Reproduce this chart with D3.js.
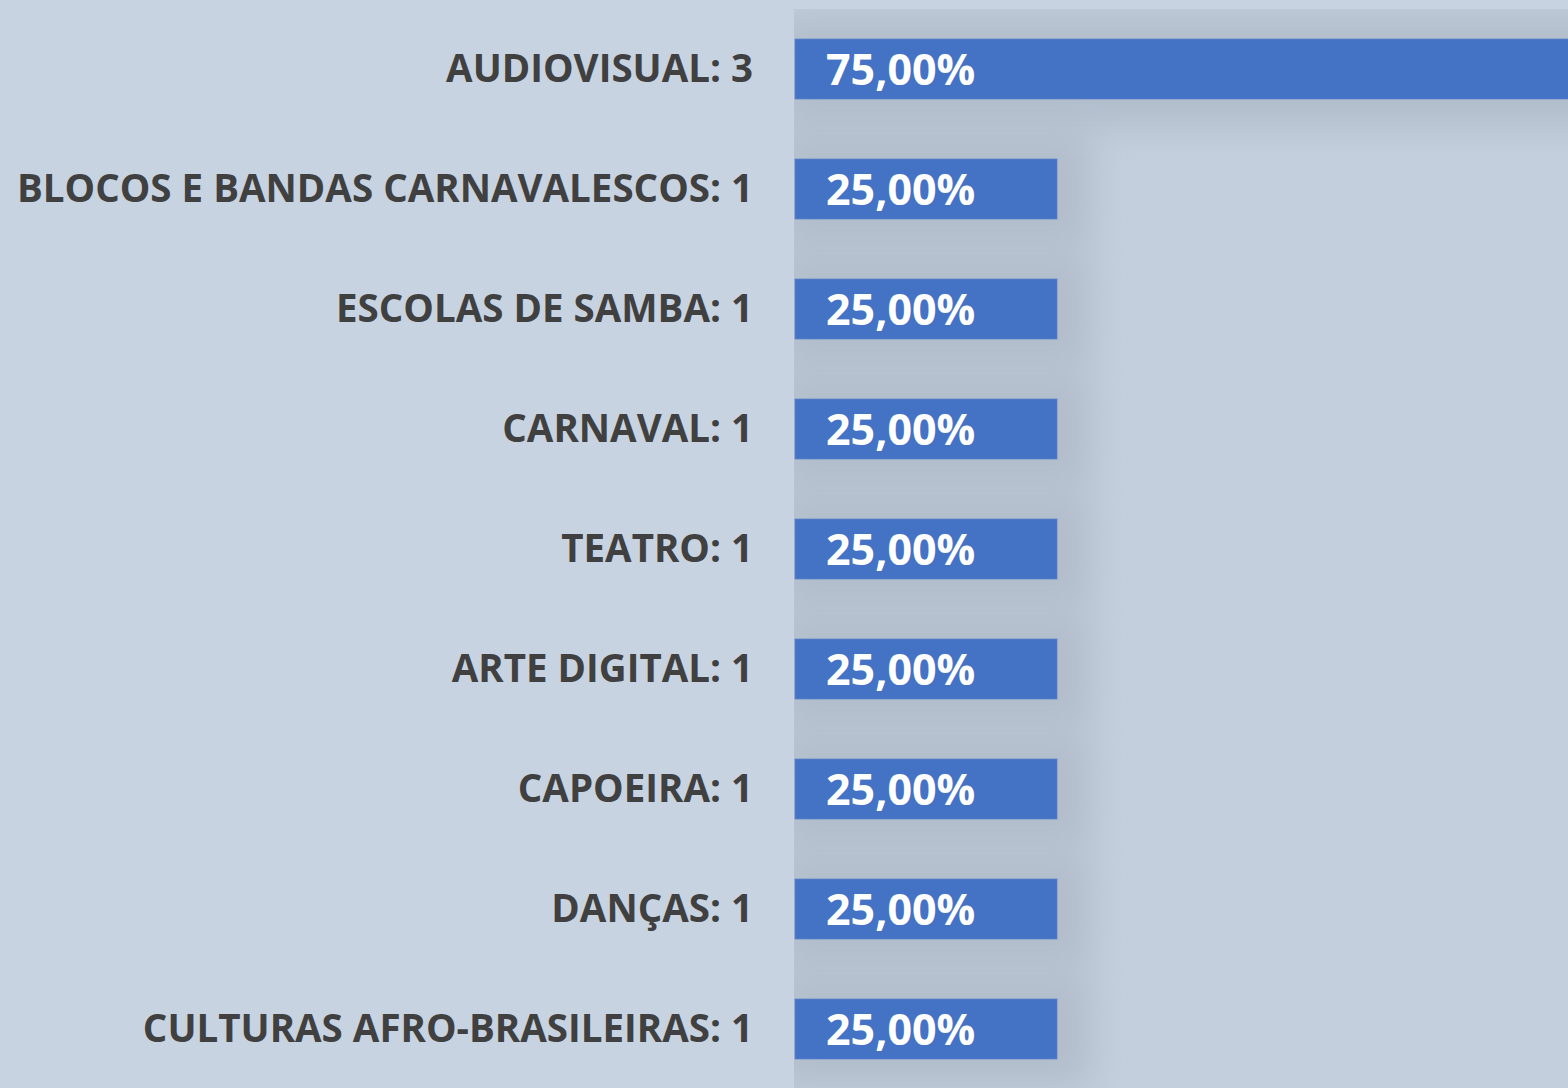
<!DOCTYPE html>
<html>
<head>
<meta charset="utf-8">
<script src="https://cdn.jsdelivr.net/npm/d3@7"></script>
<style>
html,body{margin:0;padding:0;background:#c7d3e1;overflow:hidden;}
svg{display:block;}
</style>
</head>
<body>
<svg id="chart" width="1568" height="1088"></svg>
<script>
const categories = ["AUDIOVISUAL","BLOCOS E BANDAS CARNAVALESCOS","ESCOLAS DE SAMBA","CARNAVAL","TEATRO","ARTE DIGITAL","CAPOEIRA","DANÇAS","CULTURAS AFRO-BRASILEIRAS"];
const counts = [3,1,1,1,1,1,1,1,1];
const shares = [0.75,0.25,0.25,0.25,0.25,0.25,0.25,0.25,0.25];

const W = 1568, H = 1088;
const plotLeft = 794, plotTop = 9, plotBottom = 1089;
const svg = d3.select("#chart");

const defs = svg.append("defs");
const f = defs.append("filter").attr("id","shadow")
  .attr("x","-50%").attr("y","-100%").attr("width","200%").attr("height","300%");
f.append("feGaussianBlur").attr("in","SourceGraphic").attr("stdDeviation",18);

svg.append("rect").attr("width",W).attr("height",H).attr("fill","#c7d3e1");
svg.append("rect").attr("x",plotLeft).attr("y",plotTop).attr("width",W-plotLeft+50).attr("height",plotBottom-plotTop)
  .attr("fill","#c4cfdd");

const x = d3.scaleLinear().domain([0,1]).range([795, 795+1048]);
const y = d3.scaleBand().domain(categories).range([plotTop, plotBottom]).paddingInner(0.5).paddingOuter(0.25);

const data = categories.map((c,i)=>({cat:c,count:counts[i],share:shares[i]}));
const fmt = v => d3.format(".2f")(v*100).replace(".",",") + "%";

const clip = defs.append("clipPath").attr("id","plotclip");
clip.append("rect").attr("x",plotLeft).attr("y",plotTop).attr("width",W-plotLeft+50).attr("height",plotBottom-plotTop);

svg.append("g").attr("clip-path","url(#plotclip)")
  .selectAll("rect.sh").data(data).join("rect")
  .attr("class","sh")
  .attr("x", x(0)-20)
  .attr("y", d=>y(d.cat)-24)
  .attr("width", d=>x(d.share)-x(0)+55)
  .attr("height", y.bandwidth()+52)
  .attr("fill","#8e98a8")
  .attr("opacity",0.32)
  .attr("filter","url(#shadow)");

svg.append("g").selectAll("rect.bar").data(data).join("rect")
  .attr("class","bar")
  .attr("x", x(0))
  .attr("y", d=>y(d.cat))
  .attr("width", d=>x(d.share)-x(0))
  .attr("height", y.bandwidth())
  .attr("fill","#4472c4")
  .attr("stroke","#5a82ca")
  .attr("stroke-width",0.75);

svg.append("g").selectAll("text.cat").data(data).join("text")
  .attr("class","cat")
  .attr("x", 753)
  .attr("y", d=>y(d.cat)+y.bandwidth()/2)
  .attr("dy","0.33em")
  .attr("text-anchor","end")
  .attr("font-family","'Open Sans', sans-serif")
  .attr("font-weight",700)
  .attr("font-size",38.5)
  .attr("fill","#404040")
  .text(d=>`${d.cat}: ${d.count}`);

svg.append("g").selectAll("text.val").data(data).join("text")
  .attr("class","val")
  .attr("x", x(0)+31)
  .attr("y", d=>y(d.cat)+y.bandwidth()/2)
  .attr("dy","0.38em")
  .attr("font-family","'Open Sans', sans-serif")
  .attr("font-weight",700)
  .attr("font-size",43)
  .attr("fill","#ffffff")
  .text(d=>fmt(d.share));
</script>
</body>
</html>
